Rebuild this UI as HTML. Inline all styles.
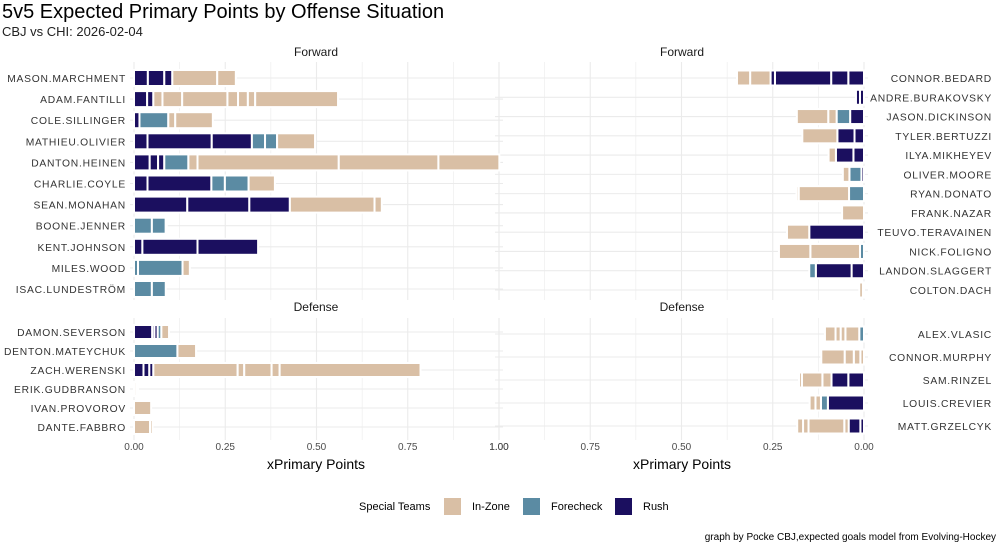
<!DOCTYPE html>
<html><head><meta charset="utf-8">
<style>
html,body{margin:0;padding:0;background:#fff;}
svg{display:block;font-family:"Liberation Sans",sans-serif;}
</style></head>
<body>
<svg id="chart" width="1000" height="542" viewBox="0 0 1000 542">
<text x="2" y="18" font-size="20" fill="#000">5v5 Expected Primary Points by Offense Situation</text>
<text x="2" y="36" font-size="13" fill="#222">CBJ vs CHI: 2026-02-04</text>
<text x="316" y="56" font-size="12" text-anchor="middle" fill="#1a1a1a">Forward</text>
<text x="682" y="56" font-size="12" text-anchor="middle" fill="#1a1a1a">Forward</text>
<text x="316" y="311" font-size="12" text-anchor="middle" fill="#1a1a1a">Defense</text>
<text x="682" y="311" font-size="12" text-anchor="middle" fill="#1a1a1a">Defense</text>
<g id="grid"></g><g id="bars"></g><g id="labels"></g>
<text x="316" y="469" font-size="14" text-anchor="middle" fill="#000">xPrimary Points</text>
<text x="682" y="469" font-size="14" text-anchor="middle" fill="#000">xPrimary Points</text>
<g>
<text x="359" y="510" font-size="11" fill="#000">Special Teams</text>
<rect x="444" y="498" width="17" height="17" fill="#D9BFA5"/>
<text x="472" y="510" font-size="11">In-Zone</text>
<rect x="523" y="498" width="17" height="17" fill="#5B8BA3"/>
<text x="551" y="510" font-size="11">Forecheck</text>
<rect x="615" y="498" width="17" height="17" fill="#1B0F5F"/>
<text x="643" y="510" font-size="11">Rush</text>
</g>
<text x="996" y="540" font-size="10" text-anchor="end" fill="#000">graph by Pocke CBJ,expected goals model from Evolving-Hockey</text>
</svg>
<script>
const ticks = [0, 0.25, 0.5, 0.75, 1.0];
const tickLabels = ["0.00", "0.25", "0.50", "0.75", "1.00"];
const typeColors = {I: "#D9BFA5", F: "#5B8BA3", R: "#1B0F5F"};

const cbjFwdPlayers = ["MASON.MARCHMENT","ADAM.FANTILLI","COLE.SILLINGER","MATHIEU.OLIVIER","DANTON.HEINEN","CHARLIE.COYLE","SEAN.MONAHAN","BOONE.JENNER","KENT.JOHNSON","MILES.WOOD","ISAC.LUNDESTRÖM"];
const cbjFwdSegs = [
 [["R",.038],["R",.045],["R",.022],["I",.123],["I",.051]],
 [["R",.036],["R",.017],["I",.025],["I",.054],["I",.124],["I",.029],["I",.027],["I",.020],["I",.227]],
 [["R",.015],["F",.079],["I",.019],["I",.103]],
 [["R",.037],["R",.176],["R",.110],["F",.036],["F",.033],["I",.104]],
 [["R",.043],["R",.023],["R",.017],["F",.066],["I",.025],["I",.387],["I",.273],["I",.167]],
 [["R",.037],["R",.175],["F",.037],["F",.065],["I",.072]],
 [["R",.146],["R",.170],["R",.111],["I",.232],["I",.020]],
 [["F",.049],["F",.038],["I",.003]],
 [["R",.023],["R",.151],["R",.166]],
 [["F",.011],["F",.122],["I",.020]],
 [["F",.049],["F",.038]]
];
const chiFwdPlayers = ["CONNOR.BEDARD","ANDRE.BURAKOVSKY","JASON.DICKINSON","TYLER.BERTUZZI","ILYA.MIKHEYEV","OLIVER.MOORE","RYAN.DONATO","FRANK.NAZAR","TEUVO.TERAVAINEN","NICK.FOLIGNO","LANDON.SLAGGERT","COLTON.DACH"];
const chiFwdSegs = [
 [["R",.043],["R",.047],["R",.154],["R",.012],["I",.056],["I",.036]],
 [["R",.011],["R",.011]],
 [["R",.038],["F",.037],["I",.023],["I",.086]],
 [["R",.026],["R",.047],["I",.096]],
 [["R",.029],["R",.048],["I",.020]],
 [["R",.007],["F",.033],["I",.018]],
 [["F",.041],["I",.138],["I",.006]],
 [["I",.060]],
 [["R",.150],["I",.061]],
 [["F",.011],["I",.136],["I",.086]],
 [["R",.034],["R",.098],["F",.018]],
 [["R",.003],["I",.010]]
];
const cbjDefPlayers = ["DAMON.SEVERSON","DENTON.MATEYCHUK","ZACH.WERENSKI","ERIK.GUDBRANSON","IVAN.PROVOROV","DANTE.FABBRO"];
const cbjDefSegs = [
 [["R",.050],["R",.006],["R",.009],["F",.010],["I",.021]],
 [["F",.119],["I",.051]],
 [["R",.026],["R",.016],["R",.011],["I",.231],["I",.018],["I",.075],["I",.022],["I",.386]],
 [["I",.006],["I",.005]],
 [["I",.047]],
 [["I",.044],["I",.007]]
];
const chiDefPlayers = ["ALEX.VLASIC","CONNOR.MURPHY","SAM.RINZEL","LOUIS.CREVIER","MATT.GRZELCYK"];
const chiDefSegs = [
 [["F",.013],["I",.038],["I",.013],["I",.014],["I",.029]],
 [["I",.010],["I",.018],["I",.025],["I",.064]],
 [["R",.043],["R",.046],["I",.025],["I",.056],["I",.008]],
 [["R",.099],["F",.019],["I",.015],["I",.016]],
 [["R",.010],["R",.032],["I",.012],["I",.098],["I",.015],["I",.016]]
];

const NS = "http://www.w3.org/2000/svg";
const grid = document.getElementById("grid"), bars = document.getElementById("bars"), labels = document.getElementById("labels");
function mk(tag, attrs, parent){const e=document.createElementNS(NS,tag);for(const k in attrs)e.setAttribute(k,attrs[k]);parent.appendChild(e);return e;}

const panels = [
 {players:cbjFwdPlayers, segs:cbjFwdSegs, x0:134, dir:1, yFirst:78, yLast:289, top:62, bottom:300, bh:16, side:"left"},
 {players:chiFwdPlayers, segs:chiFwdSegs, x0:864, dir:-1, yFirst:78, yLast:290, top:62, bottom:300, bh:15, side:"right"},
 {players:cbjDefPlayers, segs:cbjDefSegs, x0:134, dir:1, yFirst:332, yLast:427, top:318, bottom:440, bh:14, side:"left"},
 {players:chiDefPlayers, segs:chiDefSegs, x0:864, dir:-1, yFirst:334, yLast:426, top:318, bottom:440, bh:15, side:"right"}
];
const SCALE = 365;
panels.forEach(p => {
  const xs = v => p.x0 + p.dir * v * SCALE;
  const n = p.players.length;
  const ys = i => p.yFirst + i * (p.yLast - p.yFirst) / (n - 1);
  const xl = Math.min(xs(0), xs(1)) - 4, xr = Math.max(xs(0), xs(1)) + 4;
  for (let k = 0; k <= 8; k++) {
    const x = xs(k * 0.125);
    const g = mk("line", {x1:x, x2:x, y1:p.top, y2:p.bottom, stroke:"#ebebeb", "stroke-width": k % 2 ? 0.6 : 1.1}, grid);
    
    
  }
  p.players.forEach((name, i) => {
    const y = ys(i);
    const h = mk("line", {x1:xl, x2:xr, y1:y, y2:y, stroke:"#ebebeb", "stroke-width":1.1}, grid);
    
    
    let acc = 0;
    p.segs[i].forEach(s => {
      const a = xs(acc), b = xs(acc + s[1]);
      acc += s[1];
      const r = mk("rect", {x:Math.min(a,b), y:y - p.bh/2, width:Math.abs(b-a), height:p.bh, fill:typeColors[s[0]], stroke:"#fff", "stroke-width":2}, bars);
      
      
    });
    const t = mk("text", p.side === "left" ? {x:126, y:y+4, "text-anchor":"end"} : {x:992, y:y+4, "text-anchor":"end"}, labels);
    t.setAttribute("font-size", "10.3"); t.setAttribute("fill", "#333");
    t.setAttribute("letter-spacing", "0.75");
    t.textContent = name;
    
    
  });
  if (p.top > 300) {
    ticks.forEach((v, k) => {
      const t = mk("text", {x:xs(v), y:450, "text-anchor":"middle", "font-size":10, fill:"#4d4d4d"}, labels);
      t.textContent = tickLabels[k];
      
      
    });
  }
});
</script>
</body></html>
